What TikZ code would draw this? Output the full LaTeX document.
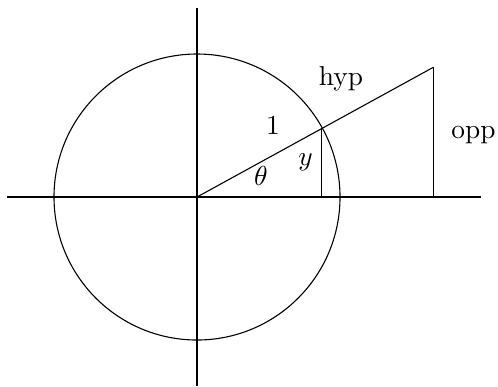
\documentclass[tikz,border=0pt]{standalone}
\begin{document}
\begin{tikzpicture}[x=0.365pt,y=-0.365pt,line width=0.4pt,
  lbl/.style={inner sep=0pt}]
\useasboundingbox (0,0) rectangle (498,386);
\coordinate (O) at (197,197);
\coordinate (L) at (7,197);
\coordinate (R) at (481,197);
\coordinate (T) at (197,8);
\coordinate (B) at (197,386);
\coordinate (P) at (321.7,128.3);
\coordinate (Q) at (433.3,67.3);
\coordinate (Pb) at (321.7,197);
\coordinate (Qb) at (433.3,197);
\draw (L) -- (R);
\draw (T) -- (B);
\draw (O) circle[radius=143];
\draw (O) -- (Q);
\draw (P) -- (Pb);
\draw (Q) -- (Qb);
\node[lbl] (hyp) at (341,78.5) {hyp};
\node[lbl] (one) at (273,125.5) {1};
\node[lbl] (th) at (261,176) {$\theta$};
\node[lbl] (yy) at (305.5,162) {$y$};
\node[lbl] (opp) at (473.5,135.5) {opp};
\end{tikzpicture}
\end{document}
